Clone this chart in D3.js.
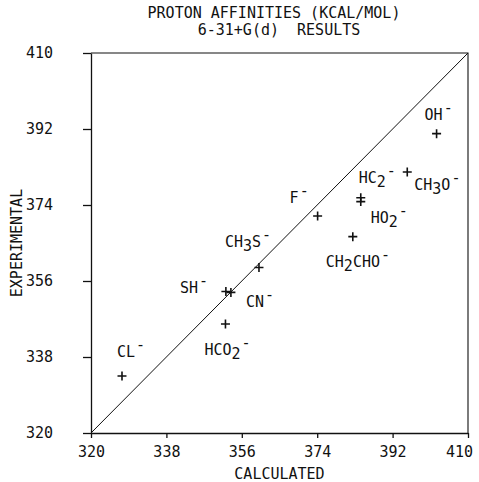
<!DOCTYPE html>
<html>
<head>
<meta charset="utf-8">
<script src="https://cdnjs.cloudflare.com/ajax/libs/d3/7.8.5/d3.min.js"></script>
<style>
  body { margin: 0; background: #fff; }
  text { font-family: "DejaVu Sans Mono", monospace; font-size: 15px; fill: #111; }
</style>
</head>
<body>
<script>
// Proton affinities, calculated vs experimental (kcal/mol)

var ions = ["CL_-", "HCO_2_-", "SH_-", "CN_-", "CH_3S_-", "F_-", "CH_2CHO_-", "HC_2_-", "HO_2_-", "CH_3O_-", "OH_-"];
var calculated   = [327.4, 352.1, 352.2, 353.4, 360.1, 374.1, 382.5, 384.4, 384.4, 395.5, 402.5];
var experimental = [333.5, 345.8, 353.5, 353.3, 359.2, 371.4, 366.5, 375.7, 374.8, 381.8, 390.9];
var ticks = [320, 338, 356, 374, 392, 410];

// where each label sits relative to its point (px)
var labelOffsets = [[-5, -19], [-21, 31], [-46, 1], [15, 15], [-34, -20], [-28, -13],
                    [-27, 30], [-2, -15], [10, 21], [7, 18], [-12, -14]];

var margin = {top: 53, right: 11, bottom: 49, left: 91},
    width = 479 - margin.left - margin.right,
    height = 482 - margin.top - margin.bottom;

var x = d3.scaleLinear().domain([320, 410]).range([0, width]);
var y = d3.scaleLinear().domain([320, 410]).range([height, 0]);

var svg = d3.select("body").append("svg")
    .attr("width", 479)
    .attr("height", 482)
  .append("g")
    .attr("transform", "translate(" + margin.left + "," + margin.top + ")");

// title
svg.append("text")
    .attr("x", 183).attr("y", -35)
    .style("text-anchor", "middle")
    .text("PROTON AFFINITIES (KCAL/MOL)");
svg.append("text")
    .attr("x", 188).attr("y", -18)
    .style("text-anchor", "middle")
    .style("white-space", "pre")
    .text("6-31+G(d)  RESULTS");

// axes
var xAxis = svg.append("g")
    .attr("transform", "translate(0," + height + ")")
    .call(d3.axisBottom(x).tickValues(ticks).tickSizeInner(5).tickSizeOuter(0).tickPadding(8));
var yAxis = svg.append("g")
    .call(d3.axisLeft(y).tickValues(ticks).tickSizeInner(8).tickSizeOuter(0).tickPadding(30));
yAxis.selectAll(".tick text").attr("x", -38).style("text-anchor", "end");
xAxis.selectAll(".tick text").attr("dx", function(d) { return d == 410 ? -9 : 0; });
[xAxis, yAxis].forEach(function(a) {
  a.select(".domain").attr("stroke", "#111").attr("stroke-width", 1.3);
  a.selectAll(".tick line").attr("stroke", "#111").attr("stroke-width", 1.3);
  a.selectAll(".tick text").style("font-size", "15px").attr("fill", "#111")
    .style("font-family", "DejaVu Sans Mono");
});

// top and right border
svg.append("path")
    .attr("d", "M0,0H" + width + "V" + height)
    .attr("fill", "none").attr("stroke", "#111").attr("stroke-width", 1.1);

// diagonal
svg.append("line")
    .attr("x1", x(320)).attr("y1", y(320))
    .attr("x2", x(410)).attr("y2", y(410))
    .attr("stroke", "#111").attr("stroke-width", 1);

// axis titles
svg.append("text")
    .attr("x", width / 2).attr("y", height + 46)
    .style("text-anchor", "middle")
    .text("CALCULATED");
svg.append("text")
    .attr("transform", "rotate(-90)")
    .attr("x", -height / 2).attr("y", -69)
    .style("text-anchor", "middle")
    .text("EXPERIMENTAL");

var data = ions.map(function(n, i) {
  return {name: n, calc: calculated[i], exp: experimental[i], off: labelOffsets[i]};
});

// plus markers
var pts = svg.selectAll(".pt")
    .data(data)
  .enter().append("path")
    .attr("class", "pt")
    .attr("d", function(d) {
      var cx = x(d.calc), cy = y(d.exp), s = 4.5;
      return "M" + (cx - s) + "," + cy + "H" + (cx + s) + "M" + cx + "," + (cy - s) + "V" + (cy + s);
    })
    .attr("stroke", "#111").attr("stroke-width", 1.6);

// labels: "_x" after a letter is a subscript, a trailing "_-" is a raised minus
var labels = svg.selectAll(".lbl")
    .data(data)
  .enter().append("text")
    .attr("class", "lbl")
    .attr("x", function(d) { return x(d.calc) + d.off[0]; })
    .attr("y", function(d) { return y(d.exp) + d.off[1]; });

labels.each(function(d) {
  var t = d3.select(this);
  var parts = d.name.split("_");
  var shift = 0;
  parts.forEach(function(p, i) {
    if (i == 0) { t.append("tspan").text(p); return; }
    if (p == "-") {
      t.append("tspan").attr("dy", -7 - shift).attr("dx", 1).text("-");
      shift = -7;
    } else {
      t.append("tspan").attr("dy", 4 - shift).text(p.charAt(0));
      shift = 4;
      if (p.length > 1) {
        t.append("tspan").attr("dy", -4).text(p.slice(1));
        shift = 0;
      }
    }
  });
});
</script>
</body>
</html>
